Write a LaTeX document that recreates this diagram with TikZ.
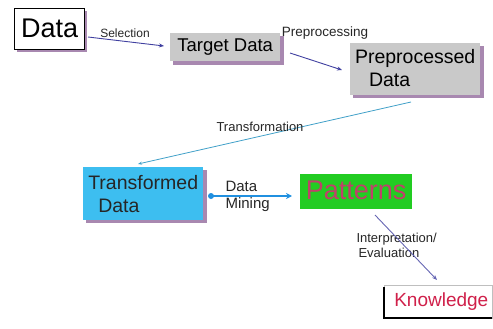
\documentclass[tikz,border=0pt]{standalone}
\usepackage{fontspec}
\setmainfont{Liberation Sans}
\usetikzlibrary{arrows.meta,positioning}
\definecolor{shadowc}{HTML}{A888B0}
\definecolor{greyfill}{HTML}{C9C9C9}
\definecolor{bluefill}{HTML}{3DBEF0}
\definecolor{greenfill}{HTML}{22CC22}
\definecolor{patc}{HTML}{C0406A}
\definecolor{knowc}{HTML}{D0204A}
\definecolor{arrc}{HTML}{4040A0}
\definecolor{transc}{HTML}{40A0C8}
\definecolor{minec}{HTML}{2090E0}
\tikzset{
  box/.style={inner sep=0pt, anchor=north west},
  lbl/.style={font=\fontsize{12}{13}\selectfont, text=black!85},
  arr/.style={draw=arrc, line width=0.9pt, -{Stealth[length=5pt,width=4pt]}},
}
\begin{document}
\begin{tikzpicture}[x=1pt,y=-1pt]
\useasboundingbox (0,0) rectangle (493,329);
% Data
\fill[shadowc] (17,11) rectangle (87,52);
\node[box, draw=black, line width=1.3pt, fill=white, minimum width=70pt, minimum height=41pt] (data) at (14,8) {};
\node[font=\fontsize{27}{28}\selectfont] at ([yshift=1pt]data.center) {Data};
% Target Data
\fill[shadowc] (173,36) rectangle (284,65);
\node[box, fill=greyfill, minimum width=110pt, minimum height=28pt] (target) at (170,33) {};
\node[font=\fontsize{18.5}{19}\selectfont] at (target.center) {Target Data};
% Preprocessed Data
\fill[shadowc] (353,46) rectangle (484,98);
\node[box, fill=greyfill, minimum width=130pt, minimum height=52pt] (prep) at (350,43) {};
\node[font=\fontsize{19.5}{23}\selectfont, align=left, anchor=center] at ([yshift=1pt]prep.center) {Preprocessed\\\hspace{14pt}Data};
% Transformed Data
\fill[shadowc] (86,170) rectangle (207,223);
\node[box, fill=bluefill, minimum width=120pt, minimum height=53pt] (trans) at (83,167) {};
\node[font=\fontsize{19.5}{23}\selectfont, align=left, text=black!85] at (trans.center) {Transformed\\\hspace{10pt}Data};
% Patterns
\node[box, fill=greenfill, minimum width=112pt, minimum height=35pt] (pat) at (300,174) {};
\node[font=\fontsize{27}{28}\selectfont, text=patc] at ([yshift=1pt]pat.center) {Patterns};
% Knowledge
\node[box, fill=white, draw=black!25, line width=0.6pt, minimum width=108pt, minimum height=33pt] (know) at (384,285) {};
\draw[black, line width=1.5pt] (384,287) -- (384,318) -- (492,318);
\node[font=\fontsize{19}{20}\selectfont, text=knowc] at ([xshift=3pt]know.center) {Knowledge};
% connectors
\coordinate (s1) at (88,37); \coordinate (s2) at (164,46);
\draw[arr] (s1) -- (s2);
\node[lbl] at (125,33) {Selection};
\coordinate (p1) at (290,53); \coordinate (p2) at (342,70);
\draw[arr] (p1) -- (p2);
\node[lbl, font=\fontsize{13.5}{14}\selectfont] at (325,33) {Preprocessing};
\coordinate (t1) at (411,102); \coordinate (t2) at (138,164);
\draw[draw=transc, line width=0.8pt, -{Stealth[length=4pt,width=3pt]}] (t1) -- (t2);
\node[lbl, font=\fontsize{13}{14}\selectfont] at (260,127) {Transformation};
\coordinate (m1) at (211,196); \coordinate (m2) at (292,196);
\draw[draw=minec, line width=1.8pt, -{Stealth[length=6pt,width=6pt]}] (m1) -- (m2);
\fill[minec] (m1) circle (3pt);
\node[font=\fontsize{15}{17}\selectfont, align=left, text=black!85, anchor=west] at (222,196) {Data\\Mining};
\coordinate (i1) at (375,215); \coordinate (i2) at (437,280);
\node[lbl, font=\fontsize{13}{15}\selectfont, align=left, anchor=west] at (353,245) {Interpretation/\\\hspace{2pt}Evaluation};
\draw[draw=arrc!80, line width=0.9pt, -{Stealth[length=5pt,width=4pt]}] (i1) -- (i2);
\end{tikzpicture}
\end{document}
